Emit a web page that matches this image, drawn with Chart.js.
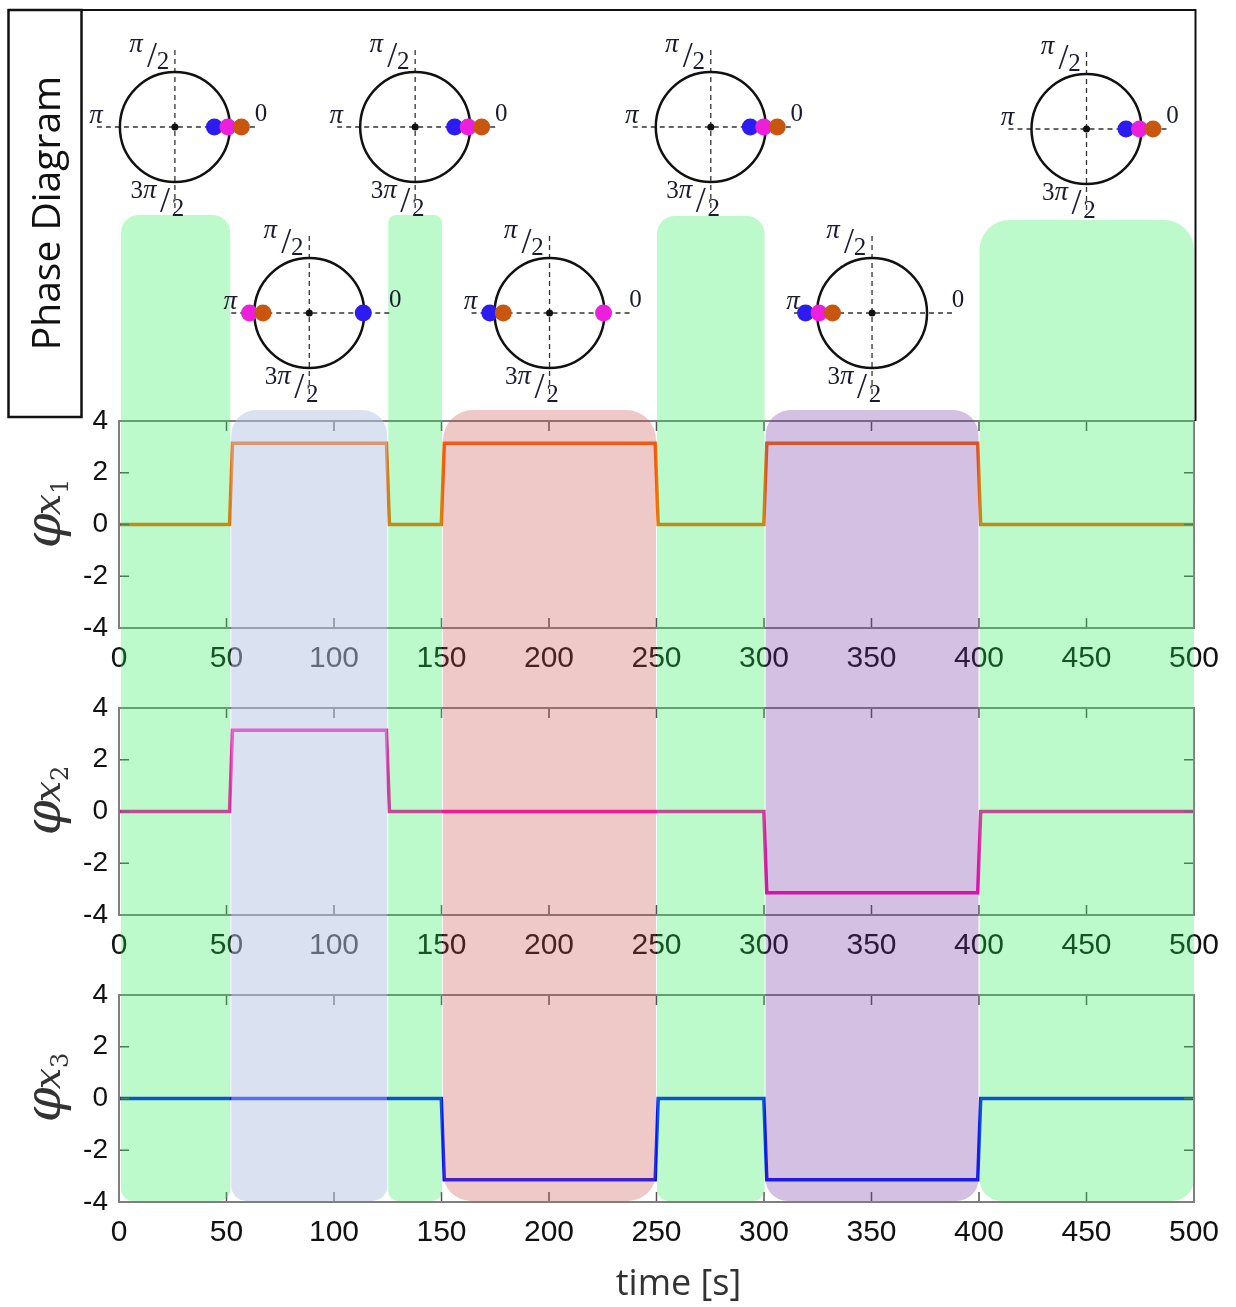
<!DOCTYPE html>
<html>
<head>
<meta charset="utf-8">
<script src="https://cdn.jsdelivr.net/npm/chart.js@4.4.1/dist/chart.umd.min.js"></script>
<style>
 body { margin: 0; background: #fff; }
 #wrap { position: relative; width: 1236px; height: 1307px; }
 #wrap canvas { position: absolute; left: 0; }
</style>
</head>
<body>
<div id="wrap">
 <canvas id="phiX1" width="1236" height="288" style="top:400px"></canvas>
 <canvas id="phiX2" width="1236" height="288" style="top:687px"></canvas>
 <canvas id="phiX3" width="1236" height="333" style="top:974px"></canvas>
 <canvas id="phaseLayer" width="1236" height="1307" style="top:0"></canvas>
</div>
<script>
var PI = Math.PI;

// segment boundaries [s] and the phase of each oscillator inside a segment
var segmentEdges = [0, 52, 125, 150.5, 250, 300.5, 400, 500];
var phaseX1 = [0, PI, 0, PI, 0, PI, 0];
var phaseX2 = [0, PI, 0, 0, 0, -PI, 0];
var phaseX3 = [0, 0, 0, -PI, 0, -PI, 0];

var timeTicks = [0, 50, 100, 150, 200, 250, 300, 350, 400, 450, 500];
var phiTicks = [-4, -2, 0, 2, 4];

// layout / styling
var PLOT_LEFT = 119;
var PLOT_RIGHT_PAD = 42;
var pxPerSecond = (1236 - PLOT_LEFT - PLOT_RIGHT_PAD) / 500;
var diagramRowY = [127, 313, 127, 313, 127, 313, 129];
var GREEN = "rgba(35,238,82,0.3)";
var regionStyles = [
 { color: GREEN, top: 215, rTop: 18, rBottom: 12 },
 { color: "rgba(181,197,229,0.5)", top: 410, rTop: 25, rBottom: 15 },
 { color: GREEN, top: 215, rTop: 8, rBottom: 10 },
 { color: "rgba(202,72,72,0.3)", top: 410, rTop: 30, rBottom: 28 },
 { color: GREEN, top: 216, rTop: 18, rBottom: 12 },
 { color: "rgba(112,45,158,0.3)", top: 410, rTop: 25, rBottom: 22 },
 { color: GREEN, top: 220, rTop: 30, rBottom: 22 },
];
var REGION_BOTTOM = 1201;

// blue, magenta, orange : drawn left to right when they share a direction
var dotSeries = [
 { phases: phaseX3, color: "#2d1cf2" },
 { phases: phaseX2, color: "#ee1fdc" },
 { phases: phaseX1, color: "#c9560e" },
];

function stepPoints(phases) {
 var pts = [];
 for (var i = 0; i < phases.length; i++) {
  var a = segmentEdges[i], b = segmentEdges[i + 1];
  pts.push({ x: i === 0 ? a : a + 0.8, y: phases[i] });
  pts.push({ x: i === phases.length - 1 ? b : b - 0.6, y: phases[i] });
 }
 return pts;
}

function segmentMid(i) {
 return (segmentEdges[i] + segmentEdges[i + 1]) / 2;
}

function diagramCentres() {
 return diagramRowY.map(function (y, i) {
  return { x: segmentMid(i), y: y };
 });
}

function dirKey(t) {
 return Math.round(Math.cos(t)) + "," + Math.round(Math.sin(t));
}

function dotPoints(k) {
 return diagramRowY.map(function (rowY, i) {
  var th = dotSeries[k].phases[i];
  var group = [0, 1, 2].filter(function (j) {
   return dirKey(dotSeries[j].phases[i]) === dirKey(th);
  });
  var pos = group.indexOf(k);
  var r = group.length > 1 ? 53 : 54;
  var dx = r * Math.cos(th) + (pos - (group.length - 1) / 2) * 13.5;
  var dy = -r * Math.sin(th);
  return { x: segmentMid(i) + dx / pxPerSecond, y: rowY + dy };
 });
}

// inward tick marks on all four sides plus a grey box
var frameTicks = {
 id: "frameTicks",
 afterDraw: function (chart) {
  var ctx = chart.ctx, a = chart.chartArea;
  var xs = chart.scales.x, ys = chart.scales.y;
  ctx.save();
  ctx.strokeStyle = "#555";
  ctx.lineWidth = 1.5;
  ctx.beginPath();
  xs.ticks.forEach(function (t) {
   var px = xs.getPixelForValue(t.value);
   ctx.moveTo(px, a.bottom);
   ctx.lineTo(px, a.bottom - 10);
   ctx.moveTo(px, a.top);
   ctx.lineTo(px, a.top + 10);
  });
  ys.ticks.forEach(function (t) {
   var py = ys.getPixelForValue(t.value);
   ctx.moveTo(a.left, py);
   ctx.lineTo(a.left + 10, py);
   ctx.moveTo(a.right, py);
   ctx.lineTo(a.right - 10, py);
  });
  ctx.stroke();
  ctx.strokeStyle = "#7f7f7f";
  ctx.lineWidth = 2;
  ctx.strokeRect(a.left, a.top, a.width, a.height);
  ctx.restore();
 },
};

// rotated "phi_{x_n}" axis label, and the time label under the last plot
var axisTitles = {
 id: "axisTitles",
 afterDraw: function (chart, args, opts) {
  var ctx = chart.ctx, a = chart.chartArea;
  ctx.save();
  ctx.translate(60, (a.top + a.bottom) / 2 - 12);
  ctx.rotate(-PI / 2);
  ctx.fillStyle = "#333";
  ctx.textBaseline = "alphabetic";
  ctx.textAlign = "left";
  var fPhi = "italic 50px 'DejaVu Serif'";
  var fX = "italic 38px 'DejaVu Serif'";
  var fSub = "24px 'DejaVu Serif'";
  ctx.font = fPhi;
  var w1 = ctx.measureText("φ").width;
  ctx.font = fX;
  var w2 = ctx.measureText("x").width;
  ctx.font = fSub;
  var w3 = ctx.measureText(opts.sub).width;
  var x0 = -(w1 + w2 + w3) / 2;
  ctx.font = fPhi;
  ctx.fillText("φ", x0, 0);
  ctx.font = fX;
  ctx.fillText("x", x0 + w1 - 2, 0);
  ctx.font = fSub;
  ctx.fillText(opts.sub, x0 + w1 + w2 - 2, 8);
  ctx.restore();

  if (opts.time) {
   ctx.save();
   ctx.fillStyle = "#333";
   ctx.font = "36px 'Open Sans'";
   ctx.textAlign = "center";
   ctx.textBaseline = "middle";
   ctx.fillText("time [s]", (a.left + a.right) / 2 + 22, a.bottom + 83);
   ctx.restore();
  }
 },
};

function makePhiChart(id, phases, color, sub, withTime) {
 return new Chart(document.getElementById(id), {
  type: "line",
  data: {
   datasets: [
    {
     data: stepPoints(phases),
     borderColor: color,
     borderWidth: 3.5,
     pointRadius: 0,
     tension: 0,
     fill: false,
    },
   ],
  },
  options: {
   responsive: false,
   animation: false,
   events: [],
   layout: {
    autoPadding: false,
    padding: { top: 21, right: PLOT_RIGHT_PAD, left: 0, bottom: 0 },
   },
   plugins: {
    legend: { display: false },
    tooltip: { enabled: false },
    axisTitles: { sub: sub, time: withTime },
   },
   scales: {
    x: {
     type: "linear",
     min: 0,
     max: 500,
     grid: { display: false, drawTicks: false },
     border: { display: false },
     afterBuildTicks: function (s) {
      s.ticks = timeTicks.map(function (v) { return { value: v }; });
     },
     afterFit: function (s) {
      s.height = withTime ? 105 : 60;
      s.paddingTop = 0;
      s.paddingBottom = 0;
     },
     ticks: {
      font: { family: "Liberation Sans", size: 30 },
      color: "#111",
      padding: 13,
      maxRotation: 0,
      autoSkip: false,
     },
    },
    y: {
     min: -4,
     max: 4,
     grid: { display: false, drawTicks: false },
     border: { display: false },
     afterBuildTicks: function (s) {
      s.ticks = phiTicks.map(function (v) { return { value: v }; });
     },
     afterFit: function (s) {
      s.width = PLOT_LEFT;
      s.paddingTop = 0;
      s.paddingBottom = 0;
     },
     ticks: {
      font: { family: "Liberation Sans", size: 28 },
      color: "#111",
      padding: 11,
     },
    },
   },
  },
  plugins: [frameTicks, axisTitles],
 });
}

makePhiChart("phiX1", phaseX1, "#ff6400", "1", false);
makePhiChart("phiX2", phaseX2, "#ff0aaf", "2", false);
makePhiChart("phiX3", phaseX3, "#0014ff", "3", true);

function drawDiagramText(ctx, cx, cy) {
 var fPi = "italic 27px 'Liberation Serif'";
 var fNum = "25px 'Liberation Serif'";
 var fSlash = "36px 'Liberation Serif'";
 ctx.fillStyle = "#1b1b30";
 ctx.textBaseline = "alphabetic";
 ctx.textAlign = "center";
 // pi/2 on top
 ctx.font = fPi;
 ctx.fillText("π", cx - 39, cy - 75);
 ctx.font = fSlash;
 ctx.fillText("/", cx - 23, cy - 60);
 ctx.font = fNum;
 ctx.fillText("2", cx - 12, cy - 58);
 // 0 and pi
 ctx.fillText("0", cx + 86, cy - 6);
 ctx.font = fPi;
 ctx.fillText("π", cx - 79, cy - 4);
 // 3pi/2 at the bottom
 ctx.font = fNum;
 ctx.textAlign = "right";
 ctx.fillText("3", cx - 32, cy + 71);
 ctx.font = fPi;
 ctx.textAlign = "left";
 ctx.fillText("π", cx - 32, cy + 71);
 ctx.textAlign = "center";
 ctx.font = fSlash;
 ctx.fillText("/", cx - 10, cy + 85);
 ctx.font = fNum;
 ctx.fillText("2", cx + 3, cy + 89);
}

var phasePanel = {
 id: "phasePanel",
 beforeDatasetsDraw: function (chart) {
  var ctx = chart.ctx, xs = chart.scales.x, ys = chart.scales.y;
  ctx.save();

  // coloured segment bands over all three plots
  regionStyles.forEach(function (st, i) {
   var last = regionStyles.length - 1;
   var l = xs.getPixelForValue(segmentEdges[i]) + (i === 0 ? 2 : 0.5);
   var r = xs.getPixelForValue(segmentEdges[i + 1]) - (i === last ? 0 : 0.5);
   ctx.fillStyle = st.color;
   ctx.beginPath();
   ctx.roundRect(l, st.top, r - l, REGION_BOTTOM - st.top, [st.rTop, st.rTop, st.rBottom, st.rBottom]);
   ctx.fill();
  });

  // panel outline and side label
  ctx.strokeStyle = "#111";
  ctx.lineWidth = 2;
  ctx.beginPath();
  ctx.moveTo(8, 10);
  ctx.lineTo(1195.5, 10);
  ctx.lineTo(1195.5, 421);
  ctx.stroke();
  ctx.lineWidth = 2.5;
  ctx.strokeRect(8.5, 10, 73, 407);
  ctx.save();
  ctx.translate(60, 213);
  ctx.rotate(-PI / 2);
  ctx.fillStyle = "#111";
  ctx.font = "39px 'Open Sans'";
  ctx.textAlign = "center";
  ctx.textBaseline = "alphabetic";
  ctx.fillText("Phase Diagram", 0, 0);
  ctx.restore();

  // dashed axes and angle labels of each phase circle
  diagramCentres().forEach(function (c) {
   var cx = xs.getPixelForValue(c.x), cy = ys.getPixelForValue(c.y);
   ctx.strokeStyle = "#333";
   ctx.lineWidth = 1.3;
   ctx.setLineDash([5, 4]);
   ctx.beginPath();
   ctx.moveTo(cx - 78, cy);
   ctx.lineTo(cx + 80, cy);
   ctx.moveTo(cx, cy - 77);
   ctx.lineTo(cx, cy + 86);
   ctx.stroke();
   ctx.setLineDash([]);
   drawDiagramText(ctx, cx, cy);
  });
  ctx.restore();
 },
};

function dotDataset(k) {
 return {
  data: dotPoints(k),
  backgroundColor: dotSeries[k].color,
  borderWidth: 0,
  pointRadius: 8.5,
  clip: false,
 };
}

new Chart(document.getElementById("phaseLayer"), {
 type: "scatter",
 data: {
  datasets: [
   dotDataset(2),
   dotDataset(1),
   dotDataset(0),
   { data: diagramCentres(), backgroundColor: "#111", borderWidth: 0, pointRadius: 3.5, clip: false },
   {
    data: diagramCentres(),
    backgroundColor: "rgba(0,0,0,0)",
    borderColor: "#111",
    borderWidth: 2.5,
    pointRadius: 55,
    clip: false,
   },
  ],
 },
 options: {
  responsive: false,
  animation: false,
  events: [],
  layout: {
   autoPadding: false,
   padding: { left: PLOT_LEFT, right: PLOT_RIGHT_PAD, top: 0, bottom: 0 },
  },
  scales: {
   x: { type: "linear", min: 0, max: 500, display: false },
   y: { min: 0, max: 1307, reverse: true, display: false },
  },
  plugins: { legend: { display: false }, tooltip: { enabled: false } },
 },
 plugins: [phasePanel],
});
</script>
</body>
</html>
